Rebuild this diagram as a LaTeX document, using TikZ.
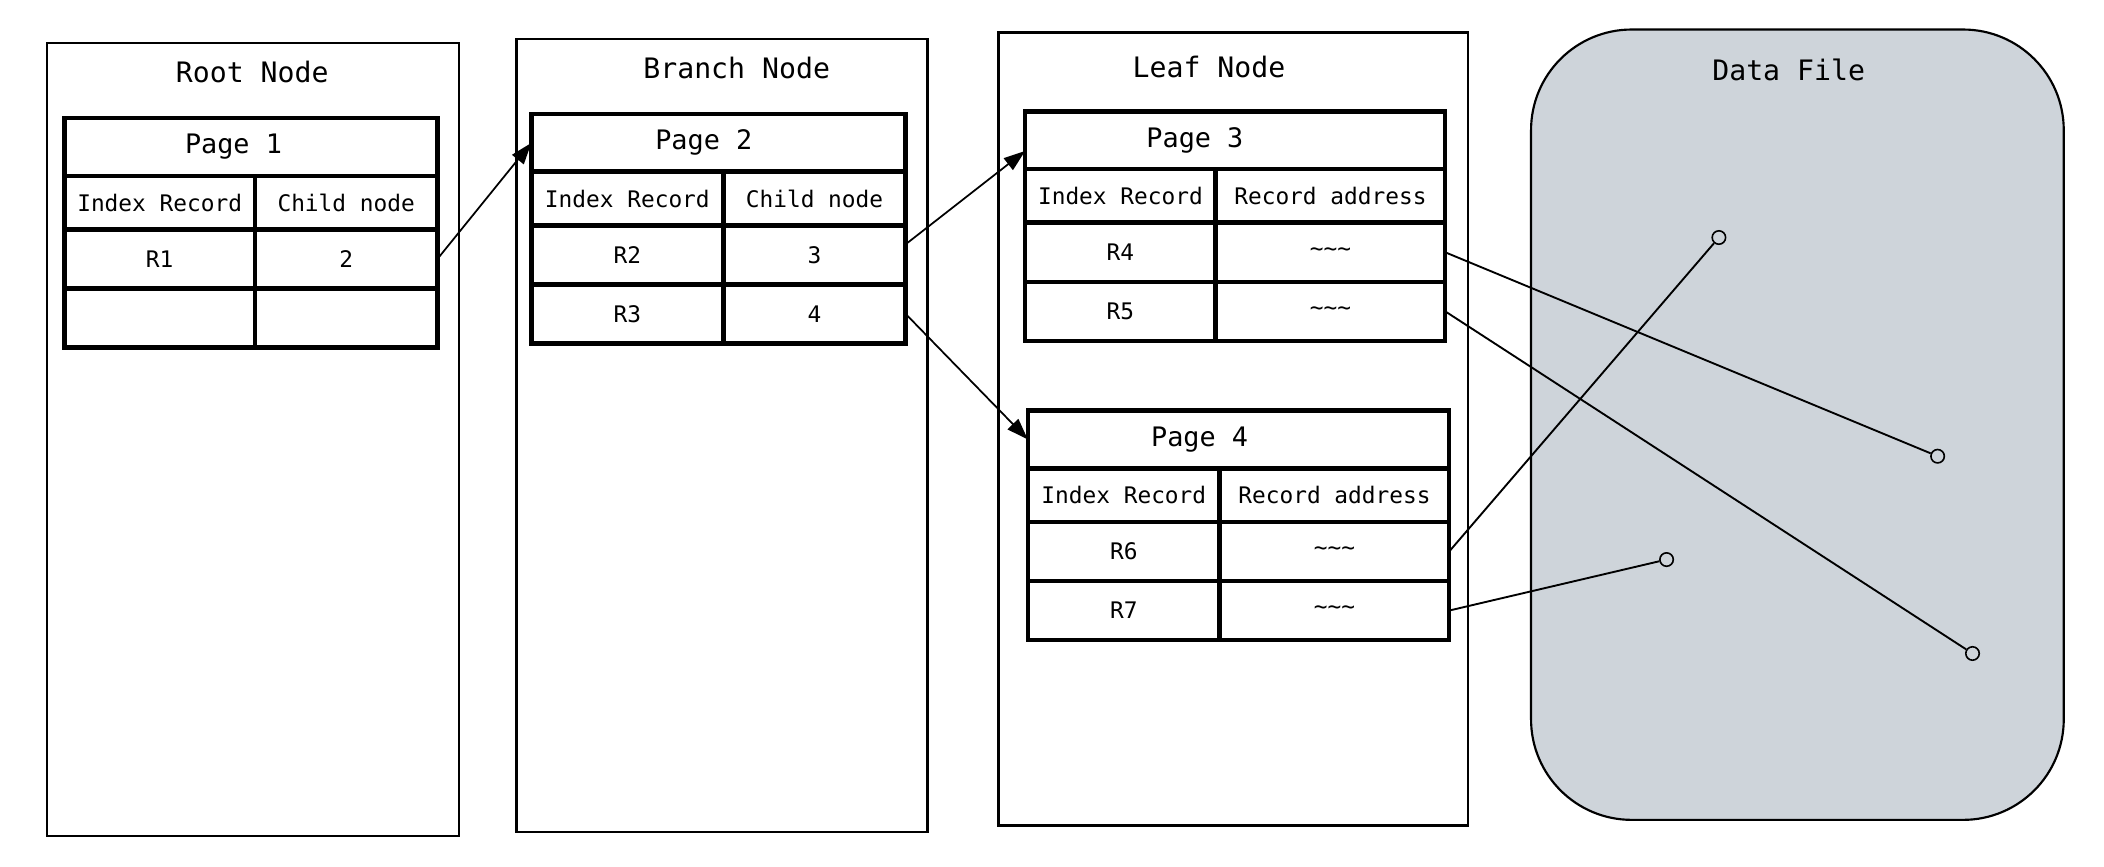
\documentclass[tikz,border=0pt]{standalone}
\usepackage{fontspec}
\setmonofont{DejaVu Sans Mono}
\usepackage{tikz}
\usetikzlibrary{arrows.meta,positioning}
\definecolor{datagray}{HTML}{CED4DA}
\newcommand{\tld}{\textasciitilde\textasciitilde\textasciitilde}

\begin{document}
\begin{tikzpicture}[x=1pt, y=-1pt,
		panel/.style={draw, line width=2pt, anchor=north west, inner sep=0, outer sep=0, minimum width=#1, minimum height=591},
		title/.style={font=\ttfamily\fontsize{21}{24}\selectfont},
		tbl/.style={draw, line width=3.4pt, anchor=north west, inner sep=0, outer sep=0, font=\ttfamily\fontsize{17}{20}\selectfont},
		pagehd/.style={tbl, minimum height=43},
		colhd/.style={tbl, minimum height=40},
		recrow/.style={tbl, minimum height=44},
		dot/.style={draw, circle, inner sep=0, minimum size=10, line width=1.2pt, fill=datagray},
		link/.style={line width=1.4pt},
		ptr/.style={line width=1.3pt, -{Triangle[length=16pt, width=11pt]}}]
	\useasboundingbox (0, 0) rectangle (1568, 645.4);

	% the three node levels and the data file
	\node[panel=307] (root) at (35, 32) {};
	\node[panel=306] (branch) at (385, 29) {};
	\node[panel=350] (leaf) at (744, 24) {};
	\draw[line width=1.6pt, fill=datagray, rounded corners=75] (1141, 22) rectangle (1538, 611);
	\node[title] (rootlbl) at (188, 54) {Root Node};
	\node[title] (branchlbl) at (549, 51) {Branch Node};
	\node[title] (leaflbl) at (901, 50) {Leaf Node};
	\node[title] (datalbl) at (1333, 52) {Data File};

	% pages
	\foreach \n/\x/\y/\wl/\wr/\dx/\ch/\ra/\rav/\rb/\rbv in {
			1/48/88/142/136/-13/Child node/R1/2/{}/{},
			2/396/85/143/136/-11/Child node/R2/3/R3/4,
			3/764/83/142/171/-30/Record address/R4/\tld/R5/\tld,
			4/766/306/143/171/-29/Record address/R6/\tld/R7/\tld} {
		\pgfmathsetmacro{\w}{\wl + \wr}
		\node[pagehd, minimum width=\w] (p\n) at (\x, \y) {};
		\node[font=\ttfamily\fontsize{20}{24}\selectfont] (p\n-t) at ([xshift=\dx]p\n.center) {Page \n};
		\node[colhd, minimum width=\wl] (p\n-ir) at (p\n.south west) {Index Record};
		\node[colhd, minimum width=\wr] (p\n-ch) at (p\n-ir.north east) {\ch};
		\node[recrow, minimum width=\wl] (p\n-a) at (p\n-ir.south west) {\ra};
		\node[recrow, minimum width=\wr] (p\n-av) at (p\n-a.north east) {\rav};
		\node[recrow, minimum width=\wl] (p\n-b) at (p\n-a.south west) {\rb};
		\node[recrow, minimum width=\wr] (p\n-bv) at (p\n-b.north east) {\rbv};
	}

	% records in the data file
	\node[dot] (d1) at (1281, 177) {};
	\node[dot] (d2) at (1444, 340) {};
	\node[dot] (d3) at (1242, 417) {};
	\node[dot] (d4) at (1470, 487) {};

	\draw[ptr] (p1-av.east) -- (p2.west);
	\draw[ptr] ([yshift=8pt]p2-av.east) -- ([yshift=-8pt]p3.west);
	\draw[ptr] (p2-bv.east) -- (p4.west);

	\draw[link] (p3-av.east) -- (d2);
	\draw[link] (p3-bv.east) -- (d4);
	\draw[link] (p4-av.east) -- (d1);
	\draw[link] (p4-bv.east) -- (d3);

\end{tikzpicture}
\end{document}
